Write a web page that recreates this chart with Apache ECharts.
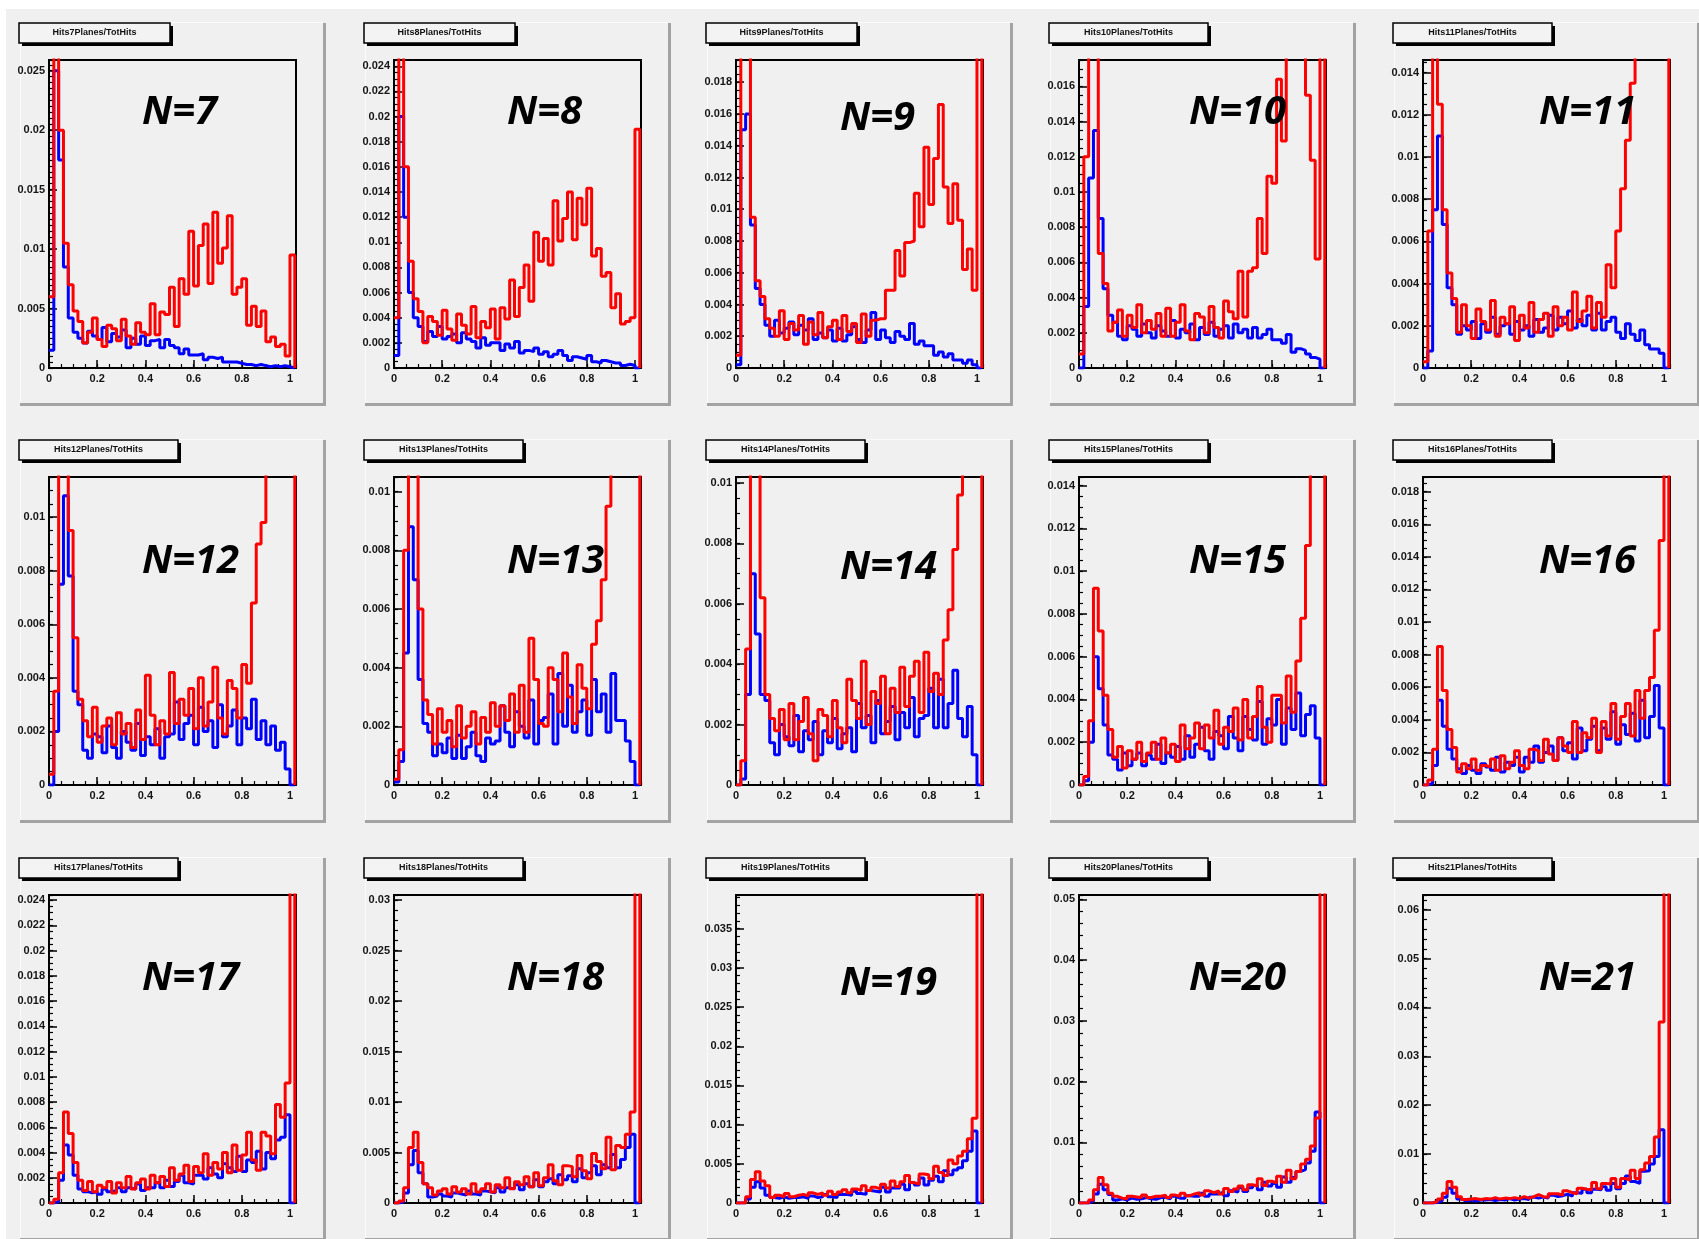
<!DOCTYPE html>
<html><head><meta charset="utf-8">
<script src="https://cdn.jsdelivr.net/npm/echarts/dist/echarts.min.js"></script>
<style>html,body{margin:0;padding:0;background:#fff}#c{width:1699px;height:1239px}</style>
</head><body><div id="c"></div>
<script>
// Histogram bin edges (width 0.02)
const BIN_EDGES = [0,0.02,0.04,0.06,0.08,0.1,0.12,0.14,0.16,0.18,0.2,0.22,0.24,0.26,0.28,0.3,0.32,0.34,0.36,0.38,0.4,0.42,0.44,0.46,0.48,0.5,0.52,0.54,0.56,0.58,0.6,0.62,0.64,0.66,0.68,0.7,0.72,0.74,0.76,0.78,0.8,0.82,0.84,0.86,0.88,0.9,0.92,0.94,0.96,0.98,1.0,1.02];

const N_LABELS = ['N=7','N=8','N=9','N=10','N=11','N=12','N=13','N=14','N=15','N=16','N=17','N=18','N=19','N=20','N=21'];
const TITLES = ['Hits7Planes/TotHits','Hits8Planes/TotHits','Hits9Planes/TotHits','Hits10Planes/TotHits','Hits11Planes/TotHits',
  'Hits12Planes/TotHits','Hits13Planes/TotHits','Hits14Planes/TotHits','Hits15Planes/TotHits','Hits16Planes/TotHits',
  'Hits17Planes/TotHits','Hits18Planes/TotHits','Hits19Planes/TotHits','Hits20Planes/TotHits','Hits21Planes/TotHits'];
const Y_MAX  = [0.0259,0.0245,0.0194,0.0175,0.0146,0.0115,0.0105,0.0102,0.0144,0.0189,0.0244,0.0305,0.0393,0.0507,0.063];
const Y_STEP = [0.005,0.002,0.002,0.002,0.002,0.002,0.002,0.002,0.002,0.002,0.002,0.005,0.005,0.01,0.01];
const Y_MINOR= [10,4,4,4,4,4,4,4,4,4,4,5,5,5,5];
const X_TICK_STEP = 0.2, X_MAX = 1.025;

const red7  = [0.006,0.030,0.020,0.0105,0.007,0.0048, 0.0039,0.0021,0.0030,0.0042, 0.0024,0.0018,0.0036,0.0033,0.0023,0.0041,0.0027,0.0020,0.0038,0.0030, 0.0028,0.0054,0.0028,0.0047,0.0045,0.0068,0.0035,0.0075,0.0062,0.0115, 0.0069,0.0103,0.0121,0.0071,0.0131,0.0088,0.0101,0.0128,0.0062,0.0068, 0.0075,0.0036,0.0052,0.0035,0.0048,0.0022,0.0026,0.0018,0.0020,0.0010, 0.0095];
const blue7 = [0.0015,0.025,0.0175,0.0085,0.0042,0.0030, 0.0025,0.0021,0.0031,0.0027, 0.0024,0.0034,0.0022,0.0029,0.0026,0.0032,0.0017,0.0025,0.0020,0.0027, 0.0019,0.0023,0.0024,0.0017,0.0024,0.0019,0.0017,0.0012,0.0016,0.0011, 0.0011,0.0012,0.0007,0.0009,0.0008,0.0009,0.0005,0.0005,0.0005,0.0004, 0.0003,0.0003,0.0002,0.0003,0.0002,0.0001,0.0002,0.0001,0.0002,0.0001, 0];
const red8  = [0.004,0.030,0.016,0.0085,0.0055,0.0045, 0.0020,0.0041,0.0037,0.0026, 0.0046,0.0031,0.0022,0.0043,0.0034,0.0027,0.0049,0.0024,0.0037,0.0032, 0.0047,0.0023,0.0048,0.0039,0.0070,0.0041,0.0064,0.0082,0.0053,0.0108, 0.0085,0.0103,0.0082,0.0133,0.0101,0.0119,0.0140,0.0102,0.0135,0.0114, 0.0143,0.0089,0.0095,0.0073,0.0076,0.0048,0.0059,0.0035,0.0037,0.0040, 0.0190];
const blue8 = [0.001,0.020,0.012,0.006,0.0040,0.0033, 0.0021,0.0029,0.0025,0.0033, 0.0023,0.0025,0.0027,0.0020,0.0028,0.0023,0.0021,0.0016,0.0024,0.0018, 0.0020,0.0020,0.0014,0.0019,0.0016,0.0021,0.0012,0.0014,0.0013,0.0016, 0.0011,0.0013,0.0009,0.0011,0.0014,0.0010,0.0006,0.0009,0.0008,0.0007, 0.0010,0.0005,0.0004,0.0006,0.0005,0.0004,0.0004,0.0002,0.0003,0.0002, 0];
const red9  = [0.0008,0.024,0.025,0.0095,0.0055,0.0045, 0.0031,0.0025,0.0020,0.0036, 0.0018,0.0028,0.0024,0.0033,0.0015,0.0029,0.0021,0.0035,0.0019,0.0026, 0.0030,0.0018,0.0033,0.0023,0.0028,0.0016,0.0034,0.0020,0.0030,0.0031, 0.0031,0.0049,0.0049,0.0074,0.0058,0.0079,0.0080,0.0110,0.0089,0.0139, 0.0103,0.0132,0.0166,0.0114,0.0091,0.0116,0.0093,0.0062,0.0075,0.0049, 0.025];
const blue9 = [0.0002,0.015,0.016,0.009,0.005,0.0040, 0.0027,0.0020,0.0030,0.0022, 0.0025,0.0029,0.0021,0.0027,0.0024,0.0031,0.0018,0.0022,0.0019,0.0024, 0.0017,0.0025,0.0017,0.0021,0.0026,0.0018,0.0016,0.0024,0.0035,0.0018, 0.0024,0.0019,0.0016,0.0023,0.0020,0.0018,0.0028,0.0015,0.0017,0.0014, 0.0014,0.0008,0.0010,0.0007,0.0009,0.0005,0.0005,0.0003,0.0005,0.0002, 0];
const red10 = [0.0008,0.012,0.022,0.020,0.0065,0.0048, 0.0021,0.0026,0.0033,0.0018, 0.0030,0.0023,0.0036,0.0020,0.0027,0.0022,0.0031,0.0018,0.0034,0.0018, 0.0026,0.0036,0.0021,0.0016,0.0031,0.0029,0.0020,0.0035,0.0023,0.0017, 0.0038,0.0032,0.0028,0.0055,0.0029,0.0055,0.0057,0.0085,0.0065,0.0109, 0.0105,0.0164,0.0129,0.0190,0.0220,0.0220,0.0180,0.0155,0.0118,0.0062, 0.030];
const blue10= [0,0.0035,0.0108,0.0135,0.0085,0.0045, 0.0030,0.0026,0.0018,0.0016, 0.0024,0.0022,0.0018,0.0025,0.0020,0.0017,0.0024,0.0021,0.0018,0.0027, 0.0017,0.0022,0.0020,0.0025,0.0016,0.0023,0.0019,0.0026,0.0018,0.0022, 0.0024,0.0017,0.0025,0.0020,0.0022,0.0017,0.0023,0.0017,0.0019,0.0022, 0.0016,0.0016,0.0014,0.0019,0.0009,0.0011,0.0010,0.0008,0.0006,0.0005, 0];
const red11 = [0.0003,0.0065,0.018,0.0125,0.0075,0.0045, 0.0033,0.0017,0.0030,0.0020, 0.0014,0.0028,0.0022,0.0018,0.0032,0.0015,0.0024,0.0021,0.0029,0.0013, 0.0025,0.0019,0.0031,0.0017,0.0023,0.0026,0.0015,0.0029,0.0020,0.0024, 0.0018,0.0036,0.0022,0.0027,0.0034,0.0019,0.0031,0.0024,0.0049,0.0038, 0.0065,0.0085,0.0108,0.0135,0.0185,0.025,0.030,0.035,0.040,0.045, 0.050];
const blue11= [0,0.0008,0.0075,0.0110,0.0068,0.0038, 0.0030,0.0016,0.0020,0.0018, 0.0022,0.0014,0.0021,0.0017,0.0024,0.0016,0.0020,0.0021,0.0016,0.0022, 0.0018,0.0020,0.0015,0.0023,0.0017,0.0019,0.0025,0.0018,0.0024,0.0021, 0.0027,0.0019,0.0023,0.0020,0.0025,0.0018,0.0026,0.0018,0.0022,0.0024, 0.0017,0.0014,0.0021,0.0016,0.0013,0.0018,0.0011,0.0009,0.0009,0.0007, 0];
const red12 = [0.0004,0.0035,0.0135,0.016,0.0095,0.0055, 0.0032,0.0024,0.0018,0.0029, 0.0016,0.0022,0.0025,0.0015,0.0027,0.0019,0.0023,0.0014,0.0028,0.0017, 0.0041,0.0026,0.0015,0.0024,0.0019,0.0042,0.0023,0.0032,0.0026,0.0036, 0.0021,0.0040,0.0022,0.0031,0.0044,0.0025,0.0019,0.0039,0.0036,0.0025, 0.0045,0.0038,0.0068,0.0090,0.0098,0.020,0.025,0.030,0.035,0.040, 0.045];
const blue12= [0,0.0020,0.0075,0.0108,0.0078,0.0035, 0.0030,0.0013,0.0010,0.0019, 0.0018,0.0012,0.0022,0.0014,0.0010,0.0020,0.0016,0.0013,0.0023,0.0011, 0.0018,0.0015,0.0021,0.0010,0.0018,0.0019,0.0031,0.0017,0.0023,0.0026, 0.0015,0.0029,0.0020,0.0024,0.0014,0.0030,0.0018,0.0022,0.0028,0.0015, 0.0025,0.0021,0.0032,0.0017,0.0024,0.0015,0.0022,0.0013,0.0016,0.0006, 0];
const red13 = [0.0002,0.0012,0.0080,0.0150,0.0120,0.0060, 0.0029,0.0024,0.0014,0.0026, 0.0018,0.0022,0.0013,0.0027,0.0016,0.0020,0.0025,0.0014,0.0023,0.0018, 0.0028,0.0020,0.0027,0.0022,0.0031,0.0018,0.0034,0.0018,0.0050,0.0036, 0.0021,0.0020,0.0040,0.0036,0.0025,0.0045,0.0030,0.0021,0.0041,0.0033, 0.0026,0.0048,0.0056,0.0070,0.0095,0.020,0.030,0.035,0.040,0.045, 0.050];
const blue13= [0.0001,0.0008,0.0045,0.0088,0.0070,0.0036, 0.0021,0.0018,0.0010,0.0014, 0.0011,0.0016,0.0009,0.0017,0.0009,0.0013,0.0018,0.0010,0.0008,0.0016, 0.0014,0.0015,0.0027,0.0018,0.0013,0.0025,0.0020,0.0016,0.0029,0.0014, 0.0022,0.0023,0.0031,0.0014,0.0038,0.0020,0.0034,0.0018,0.0025,0.0029, 0.0017,0.0036,0.0025,0.0031,0.0018,0.0038,0.0022,0.0022,0.0015,0.0008, 0];
const red14 = [0,0.0008,0.0045,0.015,0.014,0.0062, 0.0030,0.0022,0.0018,0.0025, 0.0015,0.0027,0.0015,0.0021,0.0029,0.0017,0.0008,0.0025,0.0023,0.0016, 0.0028,0.0019,0.0014,0.0035,0.0028,0.0022,0.0041,0.0020,0.0031,0.0027, 0.0036,0.0017,0.0032,0.0024,0.0039,0.0026,0.0036,0.0041,0.0024,0.0044, 0.0031,0.0037,0.0030,0.0048,0.0058,0.0078,0.0096,0.013,0.018,0.025, 0.030];
const blue14= [0,0.0002,0.0030,0.0070,0.0050,0.0030, 0.0028,0.0014,0.0010,0.0020, 0.0016,0.0013,0.0023,0.0011,0.0018,0.0015,0.0021,0.0010,0.0018,0.0014, 0.0022,0.0012,0.0017,0.0019,0.0011,0.0027,0.0019,0.0023,0.0014,0.0028, 0.0017,0.0021,0.0026,0.0015,0.0024,0.0019,0.0029,0.0016,0.0022,0.0023, 0.0032,0.0019,0.0035,0.0019,0.0027,0.0038,0.0022,0.0016,0.0026,0.0010, 0];
const red15 = [0,0.0004,0.0030,0.0092,0.0072,0.0042, 0.0026,0.0013,0.0018,0.0008, 0.0016,0.0012,0.0020,0.0011,0.0015,0.0020,0.0012,0.0022,0.0015,0.0019, 0.0011,0.0028,0.0017,0.0022,0.0029,0.0017,0.0028,0.0022,0.0035,0.0019, 0.0027,0.0025,0.0036,0.0021,0.0040,0.0022,0.0032,0.0046,0.0027,0.0020, 0.0042,0.0042,0.0029,0.0051,0.0034,0.0058,0.0078,0.0112,0.0170,0.025, 0.030];
const blue15= [0,0.0002,0.0020,0.0060,0.0045,0.0028, 0.0014,0.0012,0.0007,0.0015, 0.0009,0.0012,0.0015,0.0009,0.0014,0.0012,0.0019,0.0010,0.0015,0.0013, 0.0018,0.0012,0.0023,0.0013,0.0019,0.0027,0.0016,0.0012,0.0025,0.0023, 0.0017,0.0032,0.0022,0.0016,0.0032,0.0026,0.0021,0.0039,0.0019,0.0031, 0.0028,0.0040,0.0019,0.0036,0.0026,0.0043,0.0023,0.0033,0.0037,0.0022, 0];
const red16 = [0,0.0003,0.0022,0.0085,0.0058,0.0034, 0.0023,0.0008,0.0013,0.0010, 0.0016,0.0009,0.0012,0.0011,0.0016,0.0009,0.0018,0.0010,0.0014,0.0021, 0.0012,0.0010,0.0022,0.0021,0.0015,0.0028,0.0019,0.0015,0.0029,0.0024, 0.0020,0.0039,0.0020,0.0032,0.0029,0.0041,0.0020,0.0039,0.0030,0.0050, 0.0028,0.0042,0.0050,0.0030,0.0058,0.0041,0.0058,0.0066,0.0095,0.0150, 0.030];
const blue16= [0,0.0001,0.0012,0.0052,0.0036,0.0022, 0.0016,0.0010,0.0007,0.0012, 0.0009,0.0007,0.0013,0.0011,0.0009,0.0017,0.0008,0.0014,0.0012,0.0017, 0.0008,0.0017,0.0014,0.0024,0.0014,0.0020,0.0024,0.0015,0.0029,0.0021, 0.0026,0.0016,0.0035,0.0021,0.0028,0.0036,0.0021,0.0035,0.0028,0.0045, 0.0025,0.0037,0.0031,0.0044,0.0027,0.0052,0.0029,0.0042,0.0061,0.0035, 0];
const red17 = [0,0.0003,0.0024,0.0072,0.0055,0.0032, 0.0018,0.0010,0.0017,0.0009, 0.0014,0.0012,0.0017,0.0008,0.0016,0.0012,0.0021,0.0011,0.0016,0.0019, 0.0011,0.0022,0.0016,0.0021,0.0013,0.0028,0.0018,0.0023,0.0030,0.0017, 0.0029,0.0024,0.0039,0.0022,0.0032,0.0027,0.0040,0.0024,0.0046,0.0026, 0.0038,0.0056,0.0034,0.0026,0.0056,0.0053,0.0039,0.0078,0.0068,0.0095, 0.030];
const blue17= [0,0.0001,0.0018,0.0046,0.0038,0.0022, 0.0011,0.0009,0.0008,0.0009, 0.0007,0.0011,0.0009,0.0010,0.0012,0.0009,0.0012,0.0011,0.0015,0.0010, 0.0012,0.0012,0.0016,0.0012,0.0018,0.0013,0.0017,0.0022,0.0016,0.0015, 0.0022,0.0022,0.0019,0.0028,0.0023,0.0020,0.0031,0.0028,0.0025,0.0037, 0.0025,0.0034,0.0032,0.0041,0.0027,0.0040,0.0035,0.0050,0.0052,0.0070, 0];
const red18 = [0,0.0002,0.0015,0.0055,0.0070,0.0040, 0.0019,0.0015,0.0008,0.0012, 0.0014,0.0009,0.0016,0.0011,0.0014,0.0009,0.0019,0.0011,0.0014,0.0019, 0.0011,0.0018,0.0015,0.0025,0.0014,0.0021,0.0018,0.0026,0.0016,0.0030, 0.0017,0.0025,0.0038,0.0022,0.0018,0.0037,0.0036,0.0026,0.0047,0.0032, 0.0024,0.0049,0.0041,0.0034,0.0065,0.0033,0.0057,0.0055,0.0068,0.0090, 0.035];
const blue18= [0,0.0001,0.0010,0.0038,0.0052,0.0030, 0.0019,0.0006,0.0007,0.0009, 0.0007,0.0006,0.0010,0.0009,0.0008,0.0012,0.0009,0.0008,0.0012,0.0011, 0.0010,0.0015,0.0011,0.0015,0.0014,0.0018,0.0013,0.0019,0.0016,0.0023, 0.0016,0.0021,0.0024,0.0019,0.0028,0.0023,0.0027,0.0021,0.0034,0.0025, 0.0030,0.0037,0.0028,0.0038,0.0035,0.0048,0.0035,0.0043,0.0055,0.0068, 0];
const red19 = [0,0,0.0008,0.0030,0.0040,0.0028, 0.0022,0.0007,0.0010,0.0008, 0.0012,0.0008,0.0010,0.0011,0.0009,0.0013,0.0011,0.0013,0.0010,0.0015, 0.0011,0.0014,0.0017,0.0013,0.0018,0.0016,0.0022,0.0016,0.0020,0.0018, 0.0024,0.0019,0.0028,0.0021,0.0027,0.0035,0.0026,0.0024,0.0037,0.0036, 0.0031,0.0047,0.0039,0.0035,0.0055,0.0050,0.0060,0.0066,0.0082,0.0108, 0.045];
const blue19= [0,0,0.0005,0.0020,0.0027,0.0019, 0.0010,0.0007,0.0006,0.0008, 0.0006,0.0007,0.0007,0.0008,0.0006,0.0009,0.0007,0.0008,0.0011,0.0008, 0.0007,0.0011,0.0011,0.0010,0.0015,0.0012,0.0011,0.0016,0.0015,0.0014, 0.0020,0.0014,0.0019,0.0019,0.0024,0.0017,0.0026,0.0023,0.0032,0.0023, 0.0029,0.0034,0.0027,0.0041,0.0036,0.0042,0.0045,0.0054,0.0066,0.0092, 0];
const red20 = [0,0,0.0005,0.0022,0.0042,0.0030, 0.0016,0.0011,0.0008,0.0007, 0.0011,0.0010,0.0009,0.0013,0.0009,0.0011,0.0011,0.0013,0.0009,0.0013, 0.0011,0.0016,0.0012,0.0015,0.0017,0.0013,0.0020,0.0017,0.0020,0.0015, 0.0024,0.0019,0.0023,0.0028,0.0022,0.0030,0.0028,0.0040,0.0029,0.0036, 0.0033,0.0044,0.0034,0.0054,0.0040,0.0052,0.0064,0.0072,0.0094,0.0140, 0.060];
const blue20= [0,0,0.0003,0.0015,0.0031,0.0022, 0.0014,0.0005,0.0007,0.0005, 0.0008,0.0006,0.0007,0.0009,0.0007,0.0006,0.0009,0.0009,0.0007,0.0011, 0.0008,0.0008,0.0012,0.0011,0.0011,0.0016,0.0011,0.0015,0.0015,0.0018, 0.0012,0.0020,0.0018,0.0025,0.0019,0.0025,0.0029,0.0022,0.0034,0.0028, 0.0032,0.0026,0.0043,0.0034,0.0042,0.0052,0.0055,0.0066,0.0085,0.0150, 0];
const red21 = [0,0,0.0003,0.0008,0.0020,0.0044, 0.0032,0.0013,0.0007,0.0008, 0.0009,0.0007,0.0009,0.0008,0.0011,0.0008,0.0010,0.0009,0.0011,0.0009, 0.0013,0.0010,0.0013,0.0017,0.0013,0.0012,0.0019,0.0019,0.0016,0.0025, 0.0021,0.0019,0.0030,0.0028,0.0027,0.0042,0.0029,0.0040,0.0039,0.0050, 0.0032,0.0050,0.0047,0.0067,0.0050,0.0068,0.0082,0.0095,0.0135,0.0370, 0.070];
const blue21= [0,0,0.0001,0.0005,0.0012,0.0030, 0.0020,0.0008,0.0004,0.0006, 0.0004,0.0006,0.0006,0.0007,0.0005,0.0007,0.0006,0.0009,0.0006,0.0008, 0.0009,0.0007,0.0012,0.0010,0.0012,0.0010,0.0016,0.0013,0.0015,0.0018, 0.0014,0.0021,0.0020,0.0028,0.0021,0.0028,0.0027,0.0033,0.0026,0.0040, 0.0029,0.0040,0.0055,0.0044,0.0040,0.0065,0.0066,0.0080,0.0095,0.0150, 0];

const RED  = [red7,red8,red9,red10,red11,red12,red13,red14,red15,red16,red17,red18,red19,red20,red21];
const BLUE = [blue7,blue8,blue9,blue10,blue11,blue12,blue13,blue14,blue15,blue16,blue17,blue18,blue19,blue20,blue21];

// layout (pixels)
const COL_LEFT = [49, 394, 736, 1079, 1423];
const ROW_TOP = [60, 477, 895];
const PLOT_W = 247, PLOT_H = 308;
const LABEL_X = [142, 507, 840, 1189, 1539];
const LABEL_Y = [[113,113,119,113,113],[562,562,568,562,562],[979,979,984,979,979]];

function histData(vals) {
  const d = [];
  for (let i = 0; i < vals.length; i++) d.push([BIN_EDGES[i], vals[i]]);
  d.push([BIN_EDGES[vals.length], vals[vals.length - 1]]);
  d.push([BIN_EDGES[vals.length], 0]);
  return d;
}

const grids = [], xAxes = [], yAxes = [], series = [], graphics = [];
const tickFont = {fontFamily: 'Liberation Sans, Arial, sans-serif', fontWeight: 'bold', fontSize: 11, color: '#151515'};

graphics.push({type: 'rect', z: -20, shape: {x: 6, y: 9, width: 1699, height: 1239}, style: {fill: '#f0f0f0'}, silent: true});

for (let p = 0; p < 15; p++) {
  const col = p % 5, row = Math.floor(p / 5);
  const pl = COL_LEFT[col], pt = ROW_TOP[row];
  grids.push({left: pl, top: pt, width: PLOT_W, height: PLOT_H, show: true, borderColor: '#000', borderWidth: 2, backgroundColor: 'rgba(0,0,0,0)'});
  const g = p;
  xAxes.push({type: 'value', gridIndex: g, min: 0, max: X_MAX, interval: X_TICK_STEP, position: 'bottom',
    axisLine: {show: false}, splitLine: {show: false},
    axisTick: {show: true, inside: true, length: 8, lineStyle: {color: '#000', width: 1.5}},
    axisLabel: Object.assign({margin: 5, showMaxLabel: false}, tickFont)});
  xAxes.push({type: 'value', gridIndex: g, min: 0, max: X_MAX, interval: 0.05, position: 'bottom',
    axisLine: {show: false}, splitLine: {show: false}, axisLabel: {show: false},
    axisTick: {show: true, inside: true, length: 4, lineStyle: {color: '#000', width: 1.2}}});
  yAxes.push({type: 'value', gridIndex: g, min: 0, max: Y_MAX[p], interval: Y_STEP[p], position: 'left',
    axisLine: {show: false}, splitLine: {show: false},
    axisTick: {show: true, inside: true, length: 8, lineStyle: {color: '#000', width: 1.5}},
    axisLabel: Object.assign({margin: 4, showMaxLabel: false}, tickFont)});
  yAxes.push({type: 'value', gridIndex: g, min: 0, max: Y_MAX[p], interval: Y_STEP[p] / Y_MINOR[p], position: 'left',
    axisLine: {show: false}, splitLine: {show: false}, axisLabel: {show: false},
    axisTick: {show: true, inside: true, length: 4, lineStyle: {color: '#000', width: 1.2}}});

  series.push({type: 'line', xAxisIndex: 2 * p, yAxisIndex: 2 * p, step: 'end', symbol: 'none', clip: true, z: 2,
    lineStyle: {color: '#0000ff', width: 3}, data: histData(BLUE[p])});
  series.push({type: 'line', xAxisIndex: 2 * p, yAxisIndex: 2 * p, step: 'end', symbol: 'none', clip: true, z: 3,
    lineStyle: {color: '#ff0000', width: 3}, data: histData(RED[p])});

  graphics.push({type: 'rect', z: -10, silent: true, shape: {x: pl - 29, y: pt - 38, width: 303, height: 1}, style: {fill: '#fbfbfb'}});
  graphics.push({type: 'rect', z: -10, silent: true, shape: {x: pl - 29, y: pt - 38, width: 1, height: 381}, style: {fill: '#fbfbfb'}});
  graphics.push({type: 'rect', z: -10, silent: true, shape: {x: pl + 274, y: pt - 37, width: 3, height: 383}, style: {fill: '#a3a3a3'}});
  graphics.push({type: 'rect', z: -10, silent: true, shape: {x: pl - 29, y: pt + 343, width: 306, height: 3}, style: {fill: '#a3a3a3'}});

  const bw = TITLES[p].length > 19 ? 159 : 151;
  const bx = pl - 30, by = pt - 37;
  graphics.push({type: 'rect', z: 5, silent: true, shape: {x: bx + 3, y: by + 3, width: bw, height: 20}, style: {fill: '#000'}});
  graphics.push({type: 'rect', z: 6, silent: true, shape: {x: bx, y: by, width: bw, height: 20}, style: {fill: '#f3f3f3', stroke: '#000', lineWidth: 1.5}});
  graphics.push({type: 'text', z: 7, silent: true, style: {text: TITLES[p], x: bx + bw / 2, y: by + 10, align: 'center', verticalAlign: 'middle',
    font: 'bold 9px "Liberation Sans", Arial, sans-serif', fill: '#111'}});

  graphics.push({type: 'text', z: 20, silent: true, style: {text: N_LABELS[p], x: LABEL_X[col], y: LABEL_Y[row][col], align: 'left', verticalAlign: 'middle',
    font: 'italic bold 40px "Open Sans", sans-serif', fill: '#000'}});
}

const chart = echarts.init(document.getElementById('c'), null, {renderer: 'canvas'});
chart.setOption({
  backgroundColor: '#ffffff',
  animation: false,
  grid: grids, xAxis: xAxes, yAxis: yAxes, series: series,
  graphic: {elements: graphics}
});
</script></body></html>
